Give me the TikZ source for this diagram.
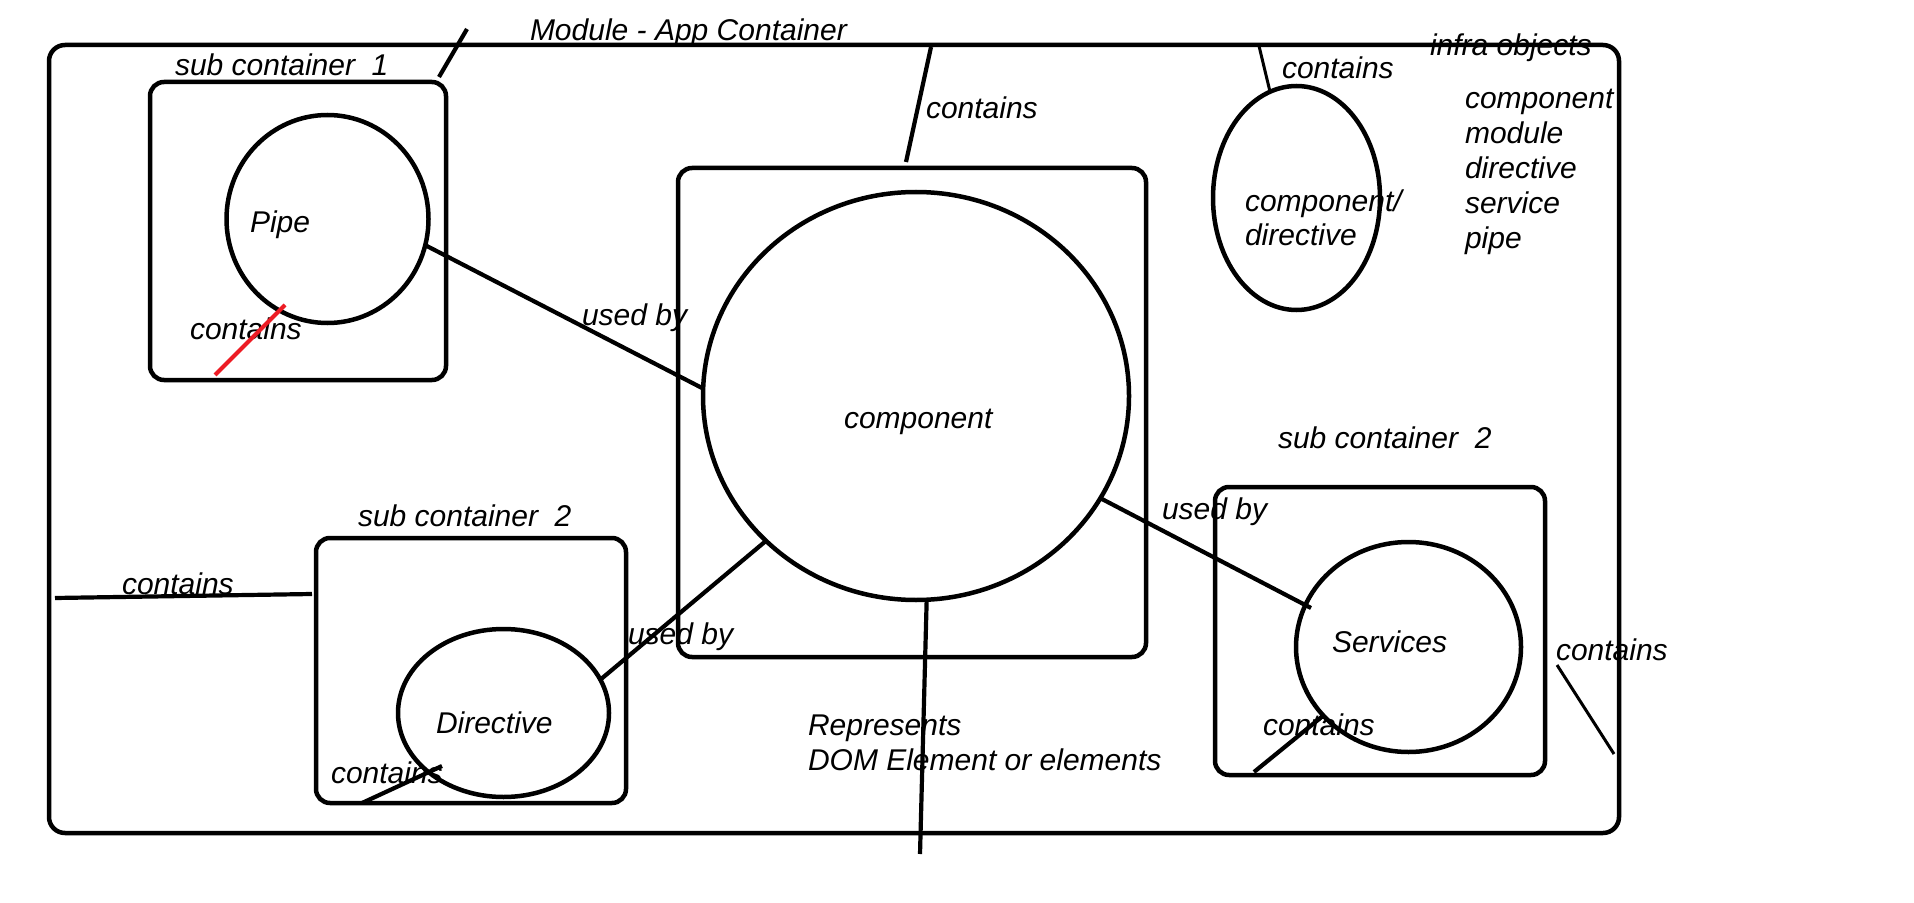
\documentclass[tikz,border=0pt]{standalone}
\usepackage{fontspec}
\setmainfont{Liberation Sans}
\usetikzlibrary{shapes.geometric}
\definecolor{paintred}{RGB}{237,28,36}
\begin{document}
\begin{tikzpicture}[x=0.5pt,y=-0.5pt,
  outline/.style={draw, line width=2.25pt, inner sep=0pt, outer sep=0pt},
  cbox/.style={outline, rectangle, rounded corners=7pt},
  oval/.style={outline, ellipse},
  lbl/.style={inner sep=0pt, outer sep=0pt, anchor=base west, font=\fontsize{15}{18}\selectfont\itshape},
  link/.style={line width=2.1pt},
  thinlink/.style={line width=1.5pt},
  redlink/.style={line width=2pt, draw=paintred}]
\fill[white] (0,0) rectangle (1914,903);
\useasboundingbox (0,0) rectangle (1914,903);

% containers
\node[cbox, rounded corners=8pt, minimum width=785pt, minimum height=394pt] (outer) at (834,439) {};
\node[cbox, minimum width=148pt, minimum height=149pt] (sub1) at (298,231) {};
\node[cbox, minimum width=234pt, minimum height=244.5pt] (compbox) at (912,412.5) {};
\node[cbox, minimum width=165pt, minimum height=144pt] (sub2r) at (1380,631) {};
\node[cbox, minimum width=155pt, minimum height=132.5pt] (sub2l) at (471,670.5) {};

% ellipses
\node[oval, minimum width=101pt, minimum height=104pt] (pipe) at (327.5,219) {};
\node[oval, minimum width=213pt, minimum height=204pt] (comp) at (916,396) {};
\node[oval, minimum width=83.5pt, minimum height=112pt] (cd) at (1296.5,198) {};
\node[oval, minimum width=112.5pt, minimum height=105pt] (services) at (1408.5,647) {};
\node[oval, minimum width=105.5pt, minimum height=84pt] (directive) at (503.5,713) {};

% free ends
\coordinate (s1a) at (439,77);   \coordinate (s1b) at (467,29);
\coordinate (topa) at (931,47);  \coordinate (topb) at (906,162);
\coordinate (cda) at (1259,46);
\coordinate (domend) at (920,854);
\coordinate (lefta) at (55,598); \coordinate (leftb) at (312,594);
\coordinate (bla) at (362,803);  \coordinate (blb) at (442,766);
\coordinate (bra) at (1254,772); \coordinate (brb) at (1324,715);
\coordinate (ora) at (1557,665); \coordinate (orb) at (1614,754);
\coordinate (reda) at (285,305); \coordinate (redb) at (215,375);
\coordinate (servin) at (1311,608);

% connectors
\draw[link] (s1a) -- (s1b);
\draw[link] (topa) -- (topb);
\draw[thinlink] (cda) -- (cd.104);
\draw[link] (pipe.-15) -- (comp.178);
\draw[link] (comp.224) -- (directive.19);
\draw[link] (comp.-29) -- (servin);
\draw[link] (comp.-87) -- (domend);
\draw[link] (lefta) -- (leftb);
\draw[link] (bla) -- (blb);
\draw[link] (bra) -- (brb);
\draw[thinlink] (ora) -- (orb);

% texts
\node[lbl] (title) at (530,41) {Module - App Container};
\node[lbl] (lsub1) at (175,76) {sub container\ \ 1};
\node[lbl] (lpipe) at (250,233) {Pipe};
\node[lbl] (lcont1) at (190,340) {contains};
\node[lbl] (lused1) at (582,326) {used by};
\node[lbl] (lcomp) at (844,428) {component};
\node[lbl] (lcont2) at (926,119) {contains};
\node[lbl] (lcont3) at (1282,79) {contains};
\node[lbl] (linfra) at (1430,56) {infra objects};
\node[lbl] (li1) at (1465,109) {component};
\node[lbl] (li2) at (1465,144) {module};
\node[lbl] (li3) at (1465,179) {directive};
\node[lbl] (li4) at (1465,214) {service};
\node[lbl] (li5) at (1465,249) {pipe};
\node[lbl] (lcd1) at (1245,212) {component/};
\node[lbl] (lcd2) at (1245,246) {directive};
\node[lbl] (lsub2r) at (1278,448) {sub container\ \ 2};
\node[lbl] (lused2) at (1162,519) {used by};
\node[lbl] (lserv) at (1332,652) {Services};
\node[lbl] (lcont4) at (1263,735) {contains};
\node[lbl] (lcont5) at (1556,660) {contains};
\node[lbl] (lsub2l) at (358,526) {sub container\ \ 2};
\node[lbl] (lcont6) at (122,594) {contains};
\node[lbl] (lused3) at (628,644) {used by};
\node[lbl] (ldir) at (436,733) {Directive};
\node[lbl] (lcont7) at (331,783) {contains};
\node[lbl] (lrep1) at (808,735) {Represents};
\node[lbl] (lrep2) at (808,770) {DOM Element or elements};

% red strike
\draw[redlink] (reda) -- (redb);
\end{tikzpicture}
\end{document}
